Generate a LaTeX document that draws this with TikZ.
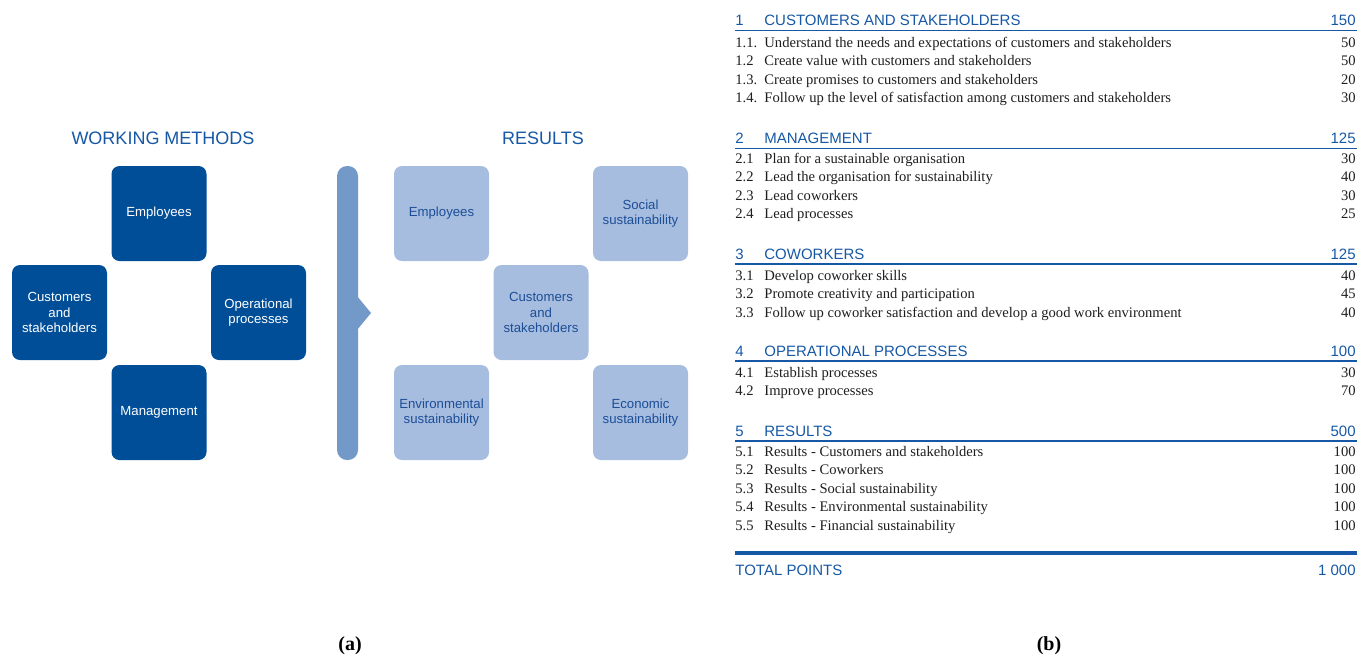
\documentclass[tikz,border=0pt]{standalone}
\usepackage{fontspec}
\setmainfont{Liberation Serif}
\setsansfont{Liberation Sans}
\usetikzlibrary{positioning}
\definecolor{darkblue}{RGB}{0,78,152}
\definecolor{barblue}{RGB}{114,153,200}
\definecolor{lightblue}{RGB}{167,189,224}
\definecolor{textblue}{RGB}{28,78,150}
\definecolor{headblue}{RGB}{22,88,165}
\definecolor{bodygray}{RGB}{30,30,30}

\tikzset{
  wmbox/.style={fill=darkblue, rounded corners=4pt, minimum width=47.5pt, minimum height=47.5pt,
    inner sep=0pt, align=center, text=white, font=\sffamily\fontsize{6.6}{7.8}\selectfont},
  resbox/.style={wmbox, fill=lightblue, text=textblue},
  title/.style={font=\sffamily\fontsize{9}{10}\selectfont, text=headblue, inner sep=0pt},
  sechead/.style={anchor=base west, inner sep=0pt, text=headblue, font=\sffamily\fontsize{7.5}{9}\selectfont},
  secpts/.style={sechead, anchor=base east},
  rowtxt/.style={anchor=base west, inner sep=0pt, text=bodygray, font=\fontsize{7.3}{8}\selectfont},
  rowpts/.style={rowtxt, anchor=base east},
  secline/.style={draw=headblue, line width=0.9pt},
  sublabel/.style={font=\bfseries\fontsize{10}{12}\selectfont, inner sep=0pt}
}

\begin{document}
\begin{tikzpicture}[x=0.5pt,y=-0.5pt]
    \useasboundingbox (0,0) rectangle (1358,659);

    % working methods
    \node[title] (wmtitle) at (163,138) {WORKING METHODS};
    \node[wmbox] (wmemp) at (159,213.5) {Employees};
    \node[wmbox] (wmcust) at (59.5,312.5) {Customers\\and\\stakeholders};
    \node[wmbox] (wmproc) at (258.5,312.5) {Operational\\processes};
    \node[wmbox] (wmman) at (159,412.5) {Management};

    % bar with notch
    \fill[barblue, rounded corners=5pt] (337,166) rectangle (358,460);
    \fill[barblue] (357,296) -- (371,313) -- (357,330) -- cycle;

    % results
    \node[title] (restitle) at (543,138) {RESULTS};
    \node[resbox] (resemp) at (441.5,213.5) {Employees};
    \node[resbox] (ressoc) at (640.5,213.5) {Social\\sustainability};
    \node[resbox] (rescust) at (541,312.5) {Customers\\and\\stakeholders};
    \node[resbox] (resenv) at (441.5,412.5) {Environmental\\sustainability};
    \node[resbox] (reseco) at (640.5,412.5) {Economic\\sustainability};

    \node[sublabel] (suba) at (350,646) {(a)};

    % table: section 1
    \node[sechead] (s1no) at (735,25.5) {1};
    \node[sechead] (s1) at (764,25.5) {CUSTOMERS AND STAKEHOLDERS};
    \node[secpts] (s1pts) at (1356,25.5) {150};
    \draw[secline] (735,30.5) -- (1357,30.5);
    \foreach \no/\txt/\pts [count=\i] in {
        1.1./Understand the needs and expectations of customers and stakeholders/50,
        1.2/Create value with customers and stakeholders/50,
        1.3./Create promises to customers and stakeholders/20,
        1.4./Follow up the level of satisfaction among customers and stakeholders/30}{
      \node[rowtxt] (r1no-\i) at (735,{47.5+(\i-1)*18.4}) {\no};
      \node[rowtxt] (r1-\i) at (764,{47.5+(\i-1)*18.4}) {\txt};
      \node[rowpts] (r1pts-\i) at (1356,{47.5+(\i-1)*18.4}) {\pts};
    }

    % section 2
    \node[sechead] (s2no) at (735,143.5) {2};
    \node[sechead] (s2) at (764,143.5) {MANAGEMENT};
    \node[secpts] (s2pts) at (1356,143.5) {125};
    \draw[secline] (735,148.5) -- (1357,148.5);
    \foreach \no/\txt/\pts [count=\i] in {
        2.1/Plan for a sustainable organisation/30,
        2.2/Lead the organisation for sustainability/40,
        2.3/Lead coworkers/30,
        2.4/Lead processes/25}{
      \node[rowtxt] (r2no-\i) at (735,{163.5+(\i-1)*18.4}) {\no};
      \node[rowtxt] (r2-\i) at (764,{163.5+(\i-1)*18.4}) {\txt};
      \node[rowpts] (r2pts-\i) at (1356,{163.5+(\i-1)*18.4}) {\pts};
    }

    % section 3
    \node[sechead] (s3no) at (735,259.5) {3};
    \node[sechead] (s3) at (764,259.5) {COWORKERS};
    \node[secpts] (s3pts) at (1356,259.5) {125};
    \draw[secline] (735,264) -- (1357,264);
    \foreach \no/\txt/\pts [count=\i] in {
        3.1/Develop coworker skills/40,
        3.2/Promote creativity and participation/45,
        3.3/Follow up coworker satisfaction and develop a good work environment/40}{
      \node[rowtxt] (r3no-\i) at (735,{280.5+(\i-1)*18.4}) {\no};
      \node[rowtxt] (r3-\i) at (764,{280.5+(\i-1)*18.4}) {\txt};
      \node[rowpts] (r3pts-\i) at (1356,{280.5+(\i-1)*18.4}) {\pts};
    }

    % section 4
    \node[sechead] (s4no) at (735,356.5) {4};
    \node[sechead] (s4) at (764,356.5) {OPERATIONAL PROCESSES};
    \node[secpts] (s4pts) at (1356,356.5) {100};
    \draw[secline] (735,361) -- (1357,361);
    \foreach \no/\txt/\pts [count=\i] in {
        4.1/Establish processes/30,
        4.2/Improve processes/70}{
      \node[rowtxt] (r4no-\i) at (735,{377.5+(\i-1)*18.4}) {\no};
      \node[rowtxt] (r4-\i) at (764,{377.5+(\i-1)*18.4}) {\txt};
      \node[rowpts] (r4pts-\i) at (1356,{377.5+(\i-1)*18.4}) {\pts};
    }

    % section 5
    \node[sechead] (s5no) at (735,436.5) {5};
    \node[sechead] (s5) at (764,436.5) {RESULTS};
    \node[secpts] (s5pts) at (1356,436.5) {500};
    \draw[secline] (735,441) -- (1357,441);
    \foreach \no/\txt/\pts [count=\i] in {
        5.1/Results - Customers and stakeholders/100,
        5.2/Results - Coworkers/100,
        5.3/Results - Social sustainability/100,
        5.4/Results - Environmental sustainability/100,
        5.5/Results - Financial sustainability/100}{
      \node[rowtxt] (r5no-\i) at (735,{456.5+(\i-1)*18.4}) {\no};
      \node[rowtxt] (r5-\i) at (764,{456.5+(\i-1)*18.4}) {\txt};
      \node[rowpts] (r5pts-\i) at (1356,{456.5+(\i-1)*18.4}) {\pts};
    }

    % total
    \draw[headblue, line width=1.6pt] (735,553) -- (1357,553);
    \node[sechead] (tot) at (735,575.5) {TOTAL POINTS};
    \node[secpts] (totpts) at (1356,575.5) {1 000};

    \node[sublabel] (subb) at (1049,646) {(b)};
\end{tikzpicture}
\end{document}
